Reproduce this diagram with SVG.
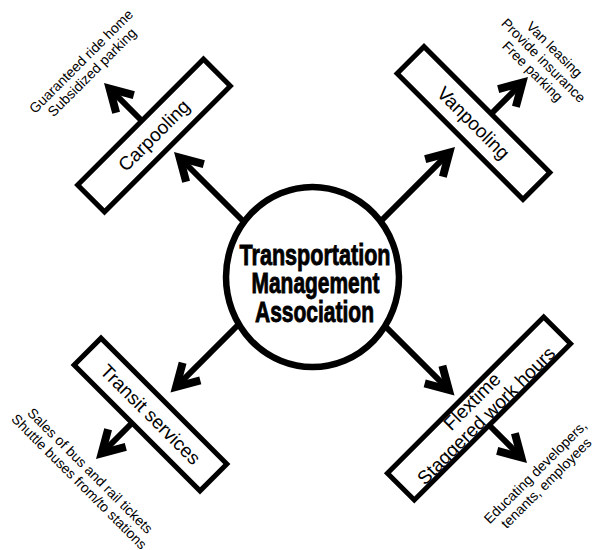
<svg xmlns="http://www.w3.org/2000/svg" xmlns:xlink="http://www.w3.org/1999/xlink" width="594" height="550" viewBox="0 0 594 550">
  <style>
    .shaft { stroke: #000; stroke-width: 6; fill: none; stroke-linecap: butt; }
    .box { fill: #fff; stroke: #000; stroke-width: 5; }
    .hub { fill: #fff; stroke: #000; stroke-width: 6.5; }
    .label { font-family: "Liberation Sans", Arial, sans-serif; font-size: 19px; fill: #000; text-anchor: middle; }
    .note { font-family: "Liberation Sans", Arial, sans-serif; font-size: 14px; fill: #000; text-anchor: middle; }
    .title { font-family: "Liberation Sans", Arial, sans-serif; font-weight: bold; font-size: 30px; fill: #000; stroke: #000; stroke-width: 0.9; text-anchor: middle; }
  </style>
  <defs>
    <!-- open chevron head, tip at the origin, pointing along +x -->
    <path id="head" d="M -29.65 -12.5 L -8 0 L -29.65 12.5" fill="none" stroke="#000" stroke-width="8" stroke-linejoin="miter" stroke-linecap="butt"/>
  </defs>

  <rect width="594" height="550" fill="#fff"/>

  <g id="connectors">
    <!-- hub to the four programmes -->
    <line class="shaft" x1="250" y1="228" x2="180" y2="158"/>
    <use xlink:href="#head" transform="translate(174,152) rotate(-135)"/>
    <line class="shaft" x1="376" y1="226" x2="449.3" y2="152.7"/>
    <use xlink:href="#head" transform="translate(455,147) rotate(-45)"/>
    <line class="shaft" x1="245" y1="318" x2="176.2" y2="386.8"/>
    <use xlink:href="#head" transform="translate(170.5,392.5) rotate(135)"/>
    <line class="shaft" x1="378" y1="319" x2="448.8" y2="389.8"/>
    <use xlink:href="#head" transform="translate(454.5,395.5) rotate(45)"/>
    <!-- programmes to their details -->
    <line class="shaft" x1="142" y1="121" x2="109.7" y2="88.7"/>
    <use xlink:href="#head" transform="translate(104,83) rotate(-135)"/>
    <line class="shaft" x1="490" y1="115" x2="522.3" y2="82.7"/>
    <use xlink:href="#head" transform="translate(528,77) rotate(-45)"/>
    <line class="shaft" x1="132" y1="423" x2="101.7" y2="453.3"/>
    <use xlink:href="#head" transform="translate(96,459) rotate(135)"/>
    <line class="shaft" x1="489" y1="425" x2="521.3" y2="457.3"/>
    <use xlink:href="#head" transform="translate(527,463) rotate(45)"/>
  </g>

  <g id="tma">
    <ellipse class="hub" cx="312.5" cy="277" rx="86.5" ry="90"/>
    <text class="title" x="315" y="265" textLength="151" lengthAdjust="spacingAndGlyphs">Transportation</text>
    <text class="title" x="315.5" y="293.3" textLength="128" lengthAdjust="spacingAndGlyphs">Management</text>
    <text class="title" x="314.5" y="321.7" textLength="119" lengthAdjust="spacingAndGlyphs">Association</text>
  </g>

  <g id="carpooling" transform="translate(154,135.5) rotate(-45)">
    <rect class="box" x="-89" y="-19" width="178" height="38"/>
    <text class="label" x="0" y="6.5">Carpooling</text>
  </g>

  <g id="vanpooling" transform="translate(473.5,123) rotate(45)">
    <rect class="box" x="-89" y="-19" width="178" height="38"/>
    <text class="label" x="0" y="6.5">Vanpooling</text>
  </g>

  <g id="transit" transform="translate(150.5,414.5) rotate(45)">
    <rect class="box" x="-89" y="-19" width="178" height="38"/>
    <text class="label" x="0" y="6.5">Transit services</text>
  </g>

  <g id="flextime" transform="translate(479,408.5) rotate(-45)">
    <rect class="box" x="-110.5" y="-19" width="221" height="38"/>
    <text class="label" x="0" y="-3.5">Flextime</text>
    <text class="label" x="0" y="16.5">Staggered work hours</text>
  </g>

  <g id="carpooling-details" transform="translate(86.6,66.8) rotate(-45)">
    <text class="note" x="0" y="-3">Guaranteed ride home</text>
    <text class="note" x="0" y="12.5">Subsidized parking</text>
  </g>

  <g id="vanpooling-details" transform="translate(543.3,60.6) rotate(45)">
    <text class="note" x="0" y="-11">Van leasing</text>
    <text class="note" x="0" y="4.5">Provide insurance</text>
    <text class="note" x="0" y="20">Free parking</text>
  </g>

  <g id="transit-details" transform="translate(84.6,476.2) rotate(45)">
    <text class="note" x="0" y="-3">Sales of bus and rail tickets</text>
    <text class="note" x="0" y="12.5">Shuttle buses from/to stations</text>
  </g>

  <g id="flextime-details" transform="translate(540.8,477.6) rotate(-45)">
    <text class="note" x="0" y="-3">Educating developers,</text>
    <text class="note" x="0" y="12.5">tenants, employees</text>
  </g>
</svg>
